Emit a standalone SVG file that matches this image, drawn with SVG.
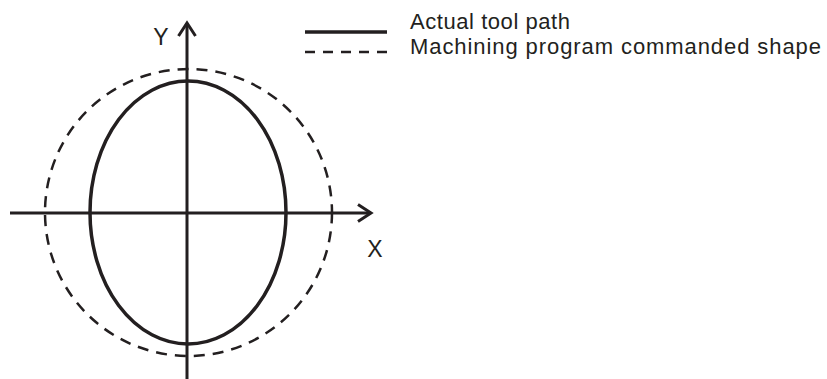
<svg xmlns="http://www.w3.org/2000/svg" width="827" height="379" viewBox="0 0 827 379">
<style>
.ax{stroke:#231f20;stroke-width:3;fill:none}
.ah{stroke:#231f20;stroke-width:3;fill:none;stroke-linecap:butt;stroke-linejoin:miter}
.solid{stroke:#231f20;stroke-width:3.5;fill:none}
.dash{stroke:#231f20;stroke-width:2.5;fill:none;stroke-dasharray:11 8}
.ldash{stroke:#231f20;stroke-width:2.5;fill:none;stroke-dasharray:10 8}
text{font-family:"Liberation Sans",Arial,sans-serif;fill:#231f20}
.lbl{font-size:23px}
.leg{font-size:22px}
</style>
<rect width="827" height="379" fill="#ffffff"/>
<g id="shapes">
<circle id="commanded-shape" class="dash" cx="188.5" cy="212.5" r="143.5"/>
<ellipse id="actual-path" class="solid" cx="188" cy="212.5" rx="98" ry="131.5"/>
</g>
<g id="axes">
<line class="ax" x1="10" y1="213" x2="371" y2="213"/>
<polyline class="ah" points="358,204.5 371,213 358,221.5"/>
<line class="ax" x1="187" y1="379" x2="187" y2="23"/>
<polyline class="ah" points="178.5,36 187,23 195.5,36"/>
<text class="lbl" x="161" y="45" text-anchor="middle">Y</text>
<text class="lbl" x="375" y="257" text-anchor="middle">X</text>
</g>
<g id="legend">
<line class="solid" x1="305" y1="32" x2="387" y2="32"/>
<line class="ldash" x1="305" y1="52" x2="387" y2="52"/>
<text class="leg" x="410" y="29" textLength="160" lengthAdjust="spacing">Actual tool path</text>
<text class="leg" x="410" y="54" textLength="411" lengthAdjust="spacing">Machining program commanded shape</text>
</g>
</svg>
